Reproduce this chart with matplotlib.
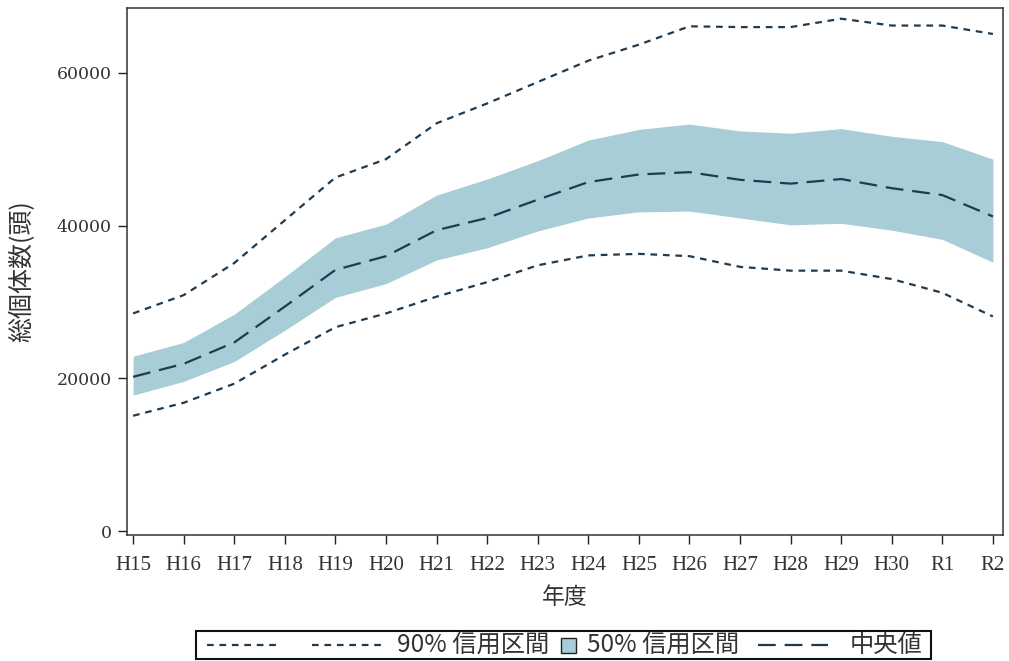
import matplotlib
matplotlib.use("Agg")
import matplotlib.pyplot as plt
from matplotlib.lines import Line2D
from matplotlib.patches import Rectangle
from matplotlib.offsetbox import AnchoredOffsetbox, HPacker, DrawingArea, TextArea

years = ["H15", "H16", "H17", "H18", "H19", "H20", "H21", "H22", "H23",
         "H24", "H25", "H26", "H27", "H28", "H29", "H30", "R1", "R2"]
upper90 = [28500, 30900, 35100, 40700, 46300, 48700, 53400, 56000, 58800,
           61600, 63700, 66100, 66000, 66000, 67100, 66200, 66200, 65100]
upper50 = [22900, 24700, 28400, 33300, 38400, 40200, 44000, 46100, 48500,
           51200, 52600, 53300, 52400, 52100, 52700, 51700, 51000, 48700]
median = [20200, 21900, 24700, 29400, 34200, 36000, 39400, 41000, 43400,
          45700, 46700, 47000, 46000, 45500, 46100, 44900, 44000, 41200]
lower50 = [17800, 19600, 22200, 26300, 30600, 32400, 35500, 37100, 39300,
           41000, 41800, 41900, 41000, 40100, 40300, 39400, 38200, 35200]
lower90 = [15100, 16800, 19300, 23100, 26700, 28500, 30700, 32600, 34800,
           36100, 36300, 36000, 34600, 34100, 34100, 33000, 31200, 28100]
yticks = [0, 20000, 40000, 60000]
legend_labels = ["90% 信用区間", "50% 信用区間", "中央値"]

LINE = "#1e3b52"
FILL = "#a8cdd6"
TXT = "#333333"
JP = ["Noto Sans CJK JP", "DejaVu Sans"]
SHORT = (3, 2.6)
LONG = (8, 4)

fig = plt.figure(figsize=(10.09, 6.61), dpi=100)
ax = fig.add_axes([0.1259, 0.1906, 0.8682, 0.7973])

x = list(range(len(years)))
ax.fill_between(x, lower50, upper50, color=FILL, linewidth=0)
ax.plot(x, upper90, color=LINE, lw=1.6, dashes=SHORT)
ax.plot(x, lower90, color=LINE, lw=1.6, dashes=SHORT)
ax.plot(x, median, color=LINE, lw=1.6, dashes=LONG)

ax.set_xlim(-0.12, 17.2)
ax.set_ylim(-520, 68500)
ax.set_xticks(x)
ax.set_xticklabels(years, family="Liberation Serif", fontsize=15)
ax.set_yticks(yticks)
ax.set_yticklabels([str(v) for v in yticks], family="DejaVu Serif", fontsize=12.5)
ax.tick_params(axis="x", length=6.5, width=1, pad=8.5, colors="#222222")
ax.tick_params(axis="y", length=6.5, width=1, pad=4.5, colors="#222222")
for lab in ax.get_xticklabels() + ax.get_yticklabels():
    lab.set_color(TXT)
for sp in ax.spines.values():
    sp.set_color("#333333")
    sp.set_linewidth(1.1)

ax.set_xlabel("年度", family=JP, fontsize=16.5, color=TXT, labelpad=8)
ax.set_ylabel("総個体数(頭)", family=JP, fontsize=18, color=TXT, labelpad=15)

# ---- legend built from offset boxes (px -> pt at 100 dpi: *0.72) ----
PT = 0.72
H = 20 * PT


def spacer(wpx):
    return DrawingArea(wpx * PT, H, 0, 0)


def line_box(wpx, dashes):
    da = DrawingArea(wpx * PT, H, 0, 0)
    da.add_artist(Line2D([0, wpx * PT], [H / 2, H / 2], color=LINE, lw=1.6,
                         dashes=dashes))
    return da


def square_box(wpx):
    s = wpx * PT
    da = DrawingArea(s, H, 0, 0)
    da.add_artist(Rectangle((0, (H - s) / 2), s, s, facecolor=FILL,
                            edgecolor="#222222", lw=1.0))
    return da


def text_box(s):
    return TextArea(s, textprops=dict(family=JP, size=17.5, color=TXT))


children = [spacer(10), line_box(73, SHORT), spacer(32), line_box(71, SHORT),
            spacer(14), text_box(legend_labels[0]), spacer(12), square_box(15),
            spacer(11), text_box(legend_labels[1]), spacer(19),
            line_box(70, LONG), spacer(21), text_box(legend_labels[2]),
            spacer(8)]
pack = HPacker(children=children, sep=0, pad=0, align="center")
ab = AnchoredOffsetbox(loc="center", child=pack, pad=0.05, borderpad=0,
                       frameon=True, bbox_to_anchor=(0.5585, 0.0242),
                       bbox_transform=fig.transFigure,
                       prop=dict(size=17.5))
ab.patch.set_boxstyle("square", pad=0)
ab.patch.set_linewidth(1.5)
ab.patch.set_edgecolor("#111111")
ax.add_artist(ab)

fig.savefig("out.png", dpi=100)
